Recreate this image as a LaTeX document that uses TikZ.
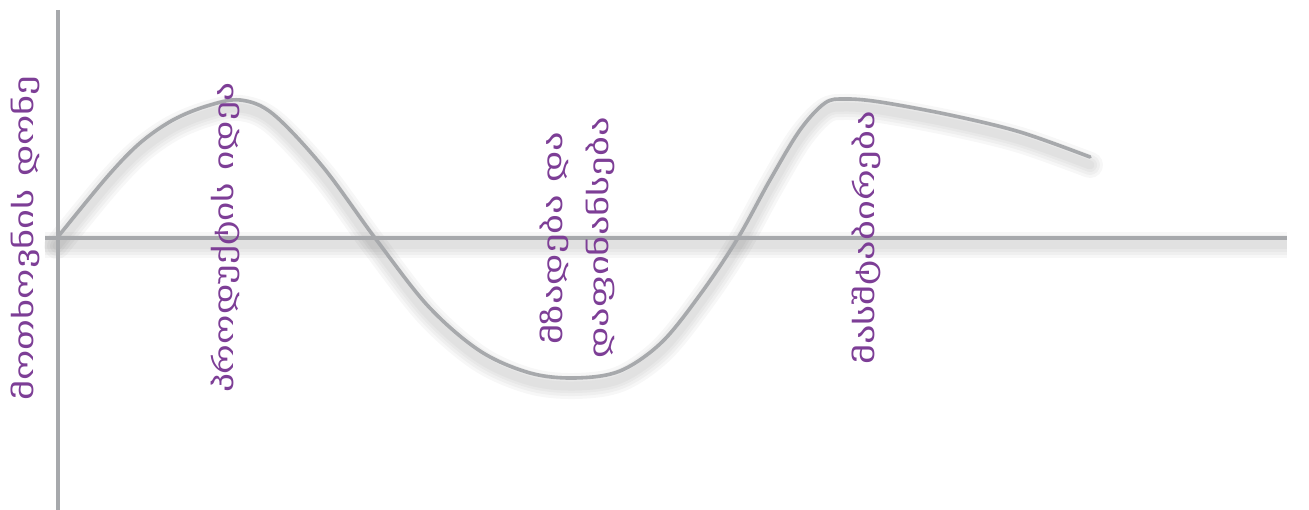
\documentclass[tikz,border=0pt]{standalone}
\usepackage{fontspec}
\newfontfamily\geo[FakeStretch=1.43]{DejaVu Sans}
\definecolor{axisgray}{RGB}{167,169,172}
\definecolor{lblpurple}{RGB}{125,62,150}
\begin{document}
\begin{tikzpicture}[x=1bp,y=1bp,
  axisline/.style={draw=axisgray, line width=3.6bp, line cap=butt},
  shadowline/.style={draw=black, opacity=0.03, line width=#1},
  lbl/.style={text=lblpurple, font=\geo\fontsize{27}{46}\selectfont, rotate=90, inner sep=0pt, align=center}]
\useasboundingbox (0,0) rectangle (1309,510);
\def\wavepts{(57,272) (107,333) (140,367) (173,390) (207,404) (240,410) (273,396) (323,343) (375,272) (428,204) (480,159) (530,137) (575,132) (620,139) (662,168) (702,218) (738,272) (770,330) (800,380) (825,407) (845,411) (880,408) (950,395) (1020,378) (1090,353)}
\coordinate (xa0) at (45,272);
\coordinate (xa1) at (1287,272);
\coordinate (ya0) at (58,500);
\coordinate (ya1) at (58,0);
% soft shadows
\foreach \w in {26,20,14,9} {
  \draw[shadowline=\w bp] ([yshift=-7bp]xa0) -- ([yshift=-7bp]xa1);
  \begin{scope}[yshift=-8bp]
  \draw[shadowline=\w bp, line cap=round] plot[smooth, tension=0.55] coordinates {\wavepts};
  \end{scope}
}
\draw[axisline] (ya0) -- (ya1);
\draw[axisline] (xa0) -- (xa1);
\draw[axisline, line cap=round] plot[smooth, tension=0.55] coordinates {\wavepts};
\node[lbl] (l1) at (25,272) {მოთხოვნის დონე};
\node[lbl, xscale=0.97] (l2) at (225,272) {პროდუქტის იდეა};
\node[lbl] (l3) at (577,272) {მზადება და\\დაფინანსება};
\node[lbl] (l4) at (866,272) {მასშტაბირება};
\end{tikzpicture}
\end{document}
